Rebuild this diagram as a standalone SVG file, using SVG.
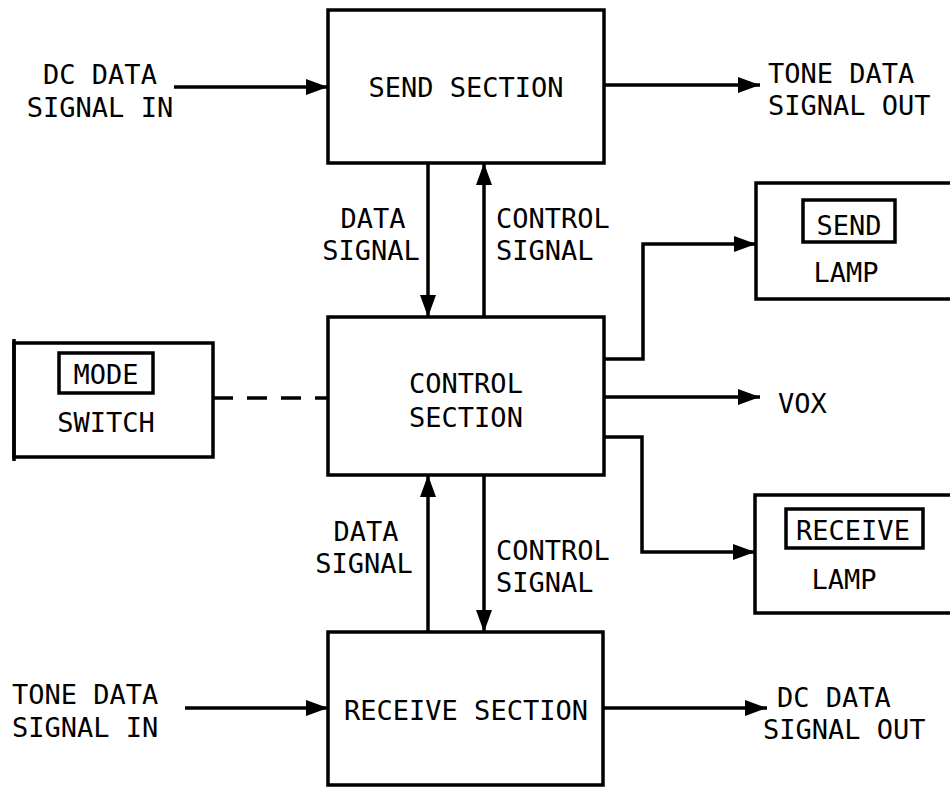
<svg xmlns="http://www.w3.org/2000/svg" width="950" height="789" viewBox="0 0 950 789">
<style>
  .box { fill: none; stroke: #000; stroke-width: 3.5; }
  .ln { fill: none; stroke: #000; stroke-width: 3.5; }
  .dash { fill: none; stroke: #000; stroke-width: 3.5; stroke-dasharray: 20 14; }
  text { font-family: "DejaVu Sans Mono", "Liberation Mono", monospace; font-size: 27px; fill: #000; }
  .c { text-anchor: middle; }
</style>
<defs>
  <marker id="ah" viewBox="0 0 22 16" refX="22" refY="8" markerWidth="22" markerHeight="16" markerUnits="userSpaceOnUse" orient="auto">
    <path d="M0,0 L22,8 L0,16 z" fill="#000"/>
  </marker>
</defs>
<rect width="950" height="789" fill="#fff"/>

<g id="send-section">
  <rect class="box" x="328" y="10" width="276" height="153"/>
  <text class="c" x="466" y="97">SEND SECTION</text>
</g>
<g id="control-section">
  <rect class="box" x="328" y="317" width="276" height="158"/>
  <text class="c" x="466" y="393">CONTROL</text>
  <text class="c" x="466" y="427">SECTION</text>
</g>
<g id="receive-section">
  <rect class="box" x="328" y="632" width="275" height="153"/>
  <text class="c" x="466" y="720">RECEIVE SECTION</text>
</g>
<g id="send-lamp">
  <rect class="box" x="756" y="183" width="220" height="116"/>
  <rect class="box" x="803" y="200" width="92" height="42"/>
  <text class="c" x="849" y="235">SEND</text>
  <text class="c" x="846" y="282">LAMP</text>
</g>
<g id="receive-lamp">
  <rect class="box" x="755" y="495" width="220" height="118"/>
  <rect class="box" x="786" y="509" width="137" height="39"/>
  <text class="c" x="853" y="540">RECEIVE</text>
  <text class="c" x="844" y="589">LAMP</text>
</g>
<g id="mode-switch">
  <rect class="box" x="14" y="343" width="199" height="114"/>
  <line class="ln" x1="14" y1="339" x2="14" y2="461" stroke-width="4"/>
  <rect class="box" x="59" y="353" width="94" height="40"/>
  <text class="c" x="106" y="384">MODE</text>
  <text class="c" x="106" y="432">SWITCH</text>
</g>

<g id="labels">
  <text class="c" x="100" y="84">DC DATA</text>
  <text class="c" x="100" y="117">SIGNAL IN</text>
  <text x="768" y="83">TONE DATA</text>
  <text x="768" y="115">SIGNAL OUT</text>
  <text class="c" x="373" y="228">DATA</text>
  <text class="c" x="371" y="260">SIGNAL</text>
  <text x="496" y="228">CONTROL</text>
  <text x="496" y="260">SIGNAL</text>
  <text class="c" x="366" y="541">DATA</text>
  <text class="c" x="364" y="573">SIGNAL</text>
  <text x="496" y="560">CONTROL</text>
  <text x="496" y="592">SIGNAL</text>
  <text x="778" y="413">VOX</text>
  <text x="12" y="704">TONE DATA</text>
  <text x="12" y="737">SIGNAL IN</text>
  <text x="777" y="707">DC DATA</text>
  <text x="763" y="739">SIGNAL OUT</text>
</g>

<g id="connectors">
  <line class="ln" x1="174" y1="87" x2="328" y2="87" marker-end="url(#ah)"/>
  <line class="ln" x1="604" y1="85" x2="760" y2="85" marker-end="url(#ah)"/>
  <line class="ln" x1="428" y1="163" x2="428" y2="317" marker-end="url(#ah)"/>
  <line class="ln" x1="484" y1="317" x2="484" y2="163" marker-end="url(#ah)"/>
  <line class="ln" x1="428" y1="632" x2="428" y2="475" marker-end="url(#ah)"/>
  <line class="ln" x1="484" y1="475" x2="484" y2="632" marker-end="url(#ah)"/>
  <polyline class="ln" points="604,359 643,359 643,244 756,244" marker-end="url(#ah)"/>
  <line class="ln" x1="604" y1="397" x2="760" y2="397" marker-end="url(#ah)"/>
  <polyline class="ln" points="604,437 642,437 642,552 755,552" marker-end="url(#ah)"/>
  <line class="dash" x1="213" y1="398" x2="328" y2="398"/>
  <line class="ln" x1="185" y1="708" x2="328" y2="708" marker-end="url(#ah)"/>
  <line class="ln" x1="603" y1="708" x2="767" y2="708" marker-end="url(#ah)"/>
</g>
</svg>
